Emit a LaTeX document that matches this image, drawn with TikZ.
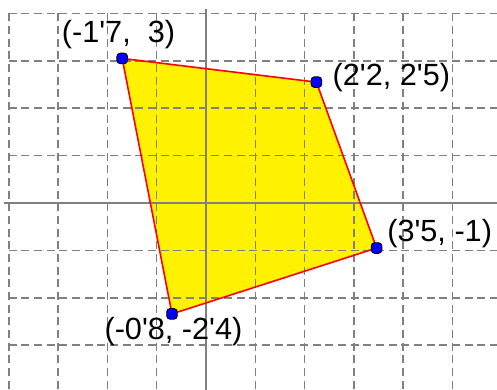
\documentclass[tikz,border=0pt]{standalone}
\usepackage{fontspec}
\setmainfont{Liberation Sans}

\begin{document}
\begin{tikzpicture}[x=36.975pt, y=35.55pt,
    gridline/.style={gray, line width=1.15pt, dash pattern=on 6pt off 3.5pt},
    axisline/.style={gray, line width=1.2pt},
    vertexdot/.style={rectangle, rounded corners=2.5pt, draw=black, line width=0.6pt, fill=blue, inner sep=0pt, minimum size=8pt},
    coordlabel/.style={font=\fontsize{23}{26}\selectfont, inner sep=0pt}]
    \useasboundingbox (-4.179,-3.945) rectangle (5.903,4.283);

    % Vertices
    \coordinate (pA) at (-1.70,3.05);
    \coordinate (pB) at (2.24,2.55);
    \coordinate (pC) at (3.46,-0.95);
    \coordinate (pD) at (-0.69,-2.34);

    % Polygon fill
    \fill[yellow] (pA) -- (pB) -- (pC) -- (pD) -- cycle;

    % Grid
    \foreach \gx in {-4,...,5}
        \draw[gridline] (\gx,4) -- (\gx,-3.945);
    \foreach \gy in {-3,...,4}
        \draw[gridline] (-4,\gy) -- (5.903,\gy);

    % Axes
    \draw[axisline] (0,4.09) -- (0,-3.945);
    \draw[axisline] (-4.1,0) -- (5.903,0);

    % Polygon edge
    \draw[red, line width=1.2pt, line join=round] (pA) -- (pB) -- (pC) -- (pD) -- cycle;

    % Vertex dots
    \node[vertexdot] (dA) at (pA) {};
    \node[vertexdot] (dB) at (pB) {};
    \node[vertexdot] (dC) at (pC) {};
    \node[vertexdot] (dD) at (pD) {};

    % Labels
    \node[coordlabel] (lA) at (-1.775,3.56) {(-1\textquotesingle 7,\ \ 3)};
    \node[coordlabel] (lB) at (3.76,2.648) {(2\textquotesingle 2, 2\textquotesingle 5)};
    \node[coordlabel] (lC) at (4.74,-0.64) {(3\textquotesingle 5, -1)};
    \node[coordlabel] (lD) at (-0.66,-2.71) {(-0\textquotesingle 8, -2\textquotesingle 4)};
\end{tikzpicture}
\end{document}
